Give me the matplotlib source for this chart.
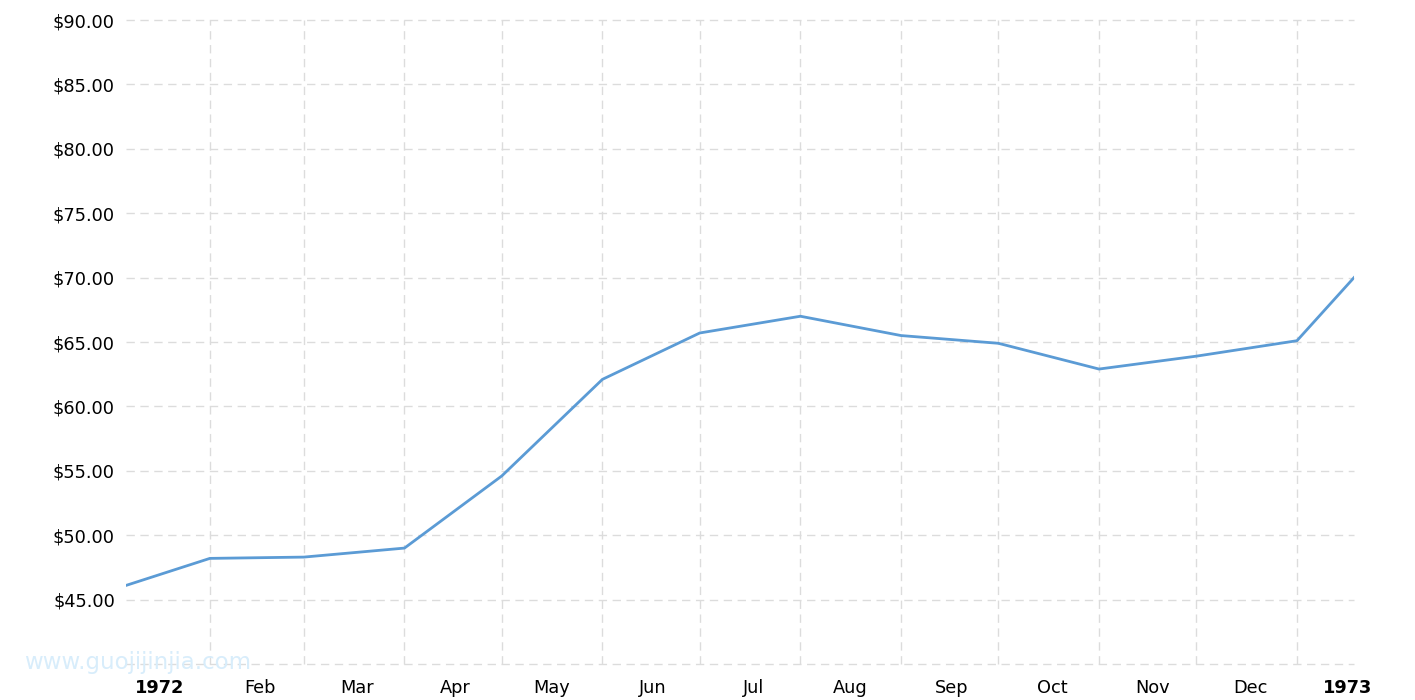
import matplotlib
matplotlib.use("Agg")
import matplotlib.pyplot as plt
import matplotlib.dates as mdates
import datetime as dt

plt.rcParams["font.family"] = ["DejaVu Sans"]

# Data
dates = ["1972-01-01", "1972-01-26", "1972-02-23", "1972-03-24", "1972-04-22",
         "1972-05-22", "1972-06-20", "1972-07-20", "1972-08-19", "1972-09-17",
         "1972-10-17", "1972-11-15", "1972-12-15", "1973-01-01"]
prices = [46.1, 48.2, 48.3, 49.0, 54.6, 62.1, 65.7, 67.0, 65.5, 64.9, 62.9, 63.9, 65.1, 70.0]
grid_dates = dates[1:-1]
label_dates = ["1972-01-11", "1972-02-10", "1972-03-10", "1972-04-08", "1972-05-07",
               "1972-06-06", "1972-07-06", "1972-08-04", "1972-09-03", "1972-10-03",
               "1972-11-02", "1972-12-01", "1972-12-30"]
labels = ["1972", "Feb", "Mar", "Apr", "May", "Jun", "Jul", "Aug", "Sep", "Oct",
          "Nov", "Dec", "1973"]
yticks = [40, 45, 50, 55, 60, 65, 70, 75, 80, 85, 90]

def d(s):
    return mdates.date2num(dt.datetime.strptime(s, "%Y-%m-%d"))

x = [d(s) for s in dates]

fig = plt.figure(figsize=(14.15, 7.0), dpi=100)
ax = fig.add_axes([126/1415, 1 - 664/700, (1354-126)/1415, (664-20)/700])

ax.set_xlim(x[0], x[-1])
ax.set_ylim(40, 90)

grid_kw = dict(color="#dcdcdc", linewidth=1.0, linestyle=(0, (6, 4)), zorder=1,
               clip_on=False)
for yv in yticks:
    ax.axhline(yv, **grid_kw)
for g in grid_dates:
    ax.axvline(d(g), **grid_kw)

ax.plot(x, prices, color="#5B9BD5", linewidth=2, zorder=3, solid_joinstyle="round")

ax.set_yticks(yticks)
ax.set_yticklabels(["" if v == 40 else f"${v:.2f}" for v in yticks], fontsize=12.8)
ax.set_xticks([d(s) for s in label_dates])
ax.set_xticklabels(labels, fontsize=12.8)
for t, lab in zip(ax.get_xticklabels(), labels):
    if lab in ("1972", "1973"):
        t.set_fontweight("bold")
ax.tick_params(axis="both", length=0, colors="black")
ax.tick_params(axis="y", pad=8)
ax.tick_params(axis="x", pad=11)
for s in ax.spines.values():
    s.set_visible(False)

fig.text(24/1415, 1 - 662/700, "www.guojijinjia.com", fontsize=16.5, color="#d8edfb",
         va="center", ha="left")

fig.savefig("out.png", dpi=100)
